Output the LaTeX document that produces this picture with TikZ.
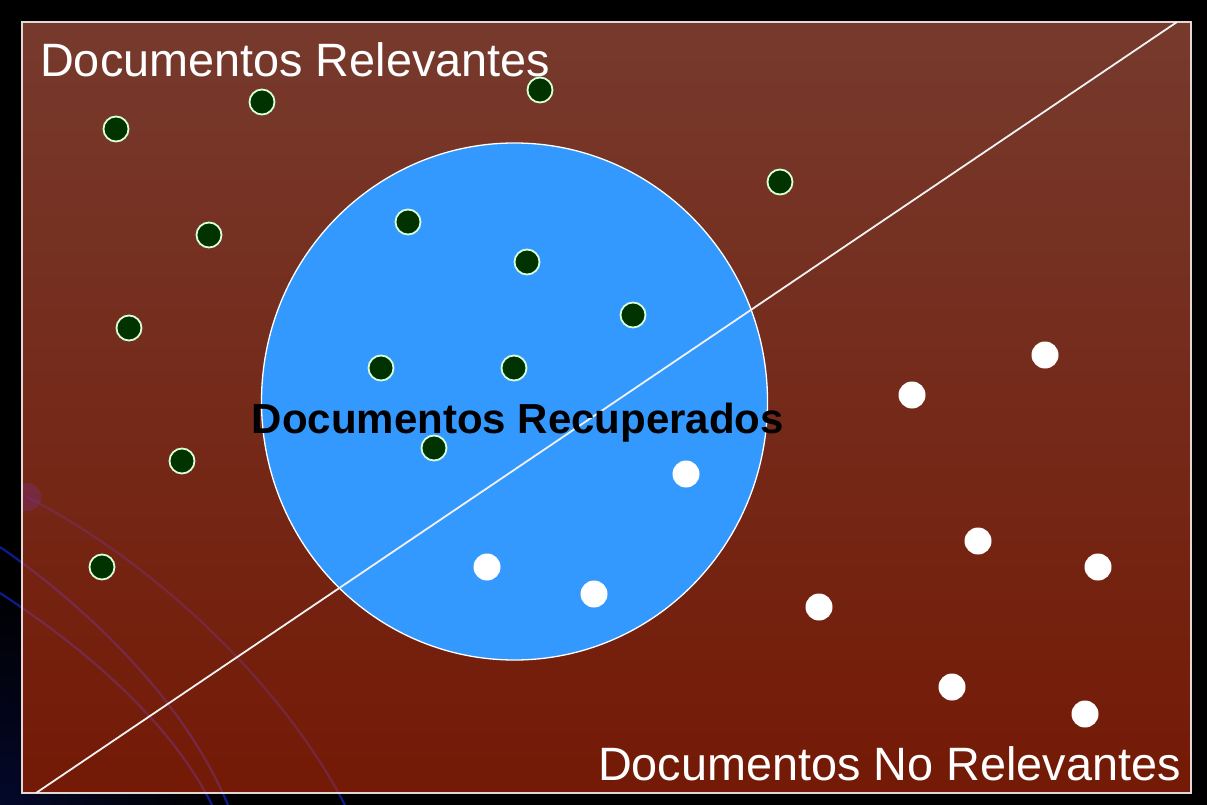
\documentclass[tikz,border=0pt]{standalone}
\usepackage{fontspec}
\setmainfont{Liberation Sans}
\usetikzlibrary{shapes.geometric}
\definecolor{bgtop}{HTML}{763A2D}
\definecolor{bgbot}{HTML}{741A06}
\definecolor{retblue}{HTML}{3399FF}
\definecolor{reldot}{HTML}{003300}
\definecolor{arcblue}{HTML}{0C1C8C}
\definecolor{arcpurple}{HTML}{7A3070}
\begin{document}
\begin{tikzpicture}[x=1pt,y=-1pt,
  reldoc/.style={circle,fill=reldot,draw=white!85!green,line width=1.8pt,minimum size=25pt,inner sep=0pt},
  nonreldoc/.style={circle,fill=white,minimum size=27pt,inner sep=0pt},
  biglabel/.style={text=white,font=\fontsize{46.8}{52}\selectfont,inner sep=0pt},
  circlabel/.style={text=black,font=\bfseries\fontsize{42}{48}\selectfont,inner sep=0pt},
  deco/.style={line width=2.2pt}]
\useasboundingbox (0,0) rectangle (1207,805);
\fill[black] (0,0) rectangle (1207,805);
\begin{scope}
  \clip (0,0) rectangle (1207,805);
  \shade[inner color=arcblue!30!black,outer color=black] (0,805) circle[radius=220];
\end{scope}
% decorative arcs (outside part)
\draw[deco,arcblue] (0,547) .. controls (70,595) and (180,690) .. (228,805);
\draw[deco,arcblue] (0,593) .. controls (80,645) and (170,720) .. (212,805);
\draw[deco,arcblue] (27,497) .. controls (150,560) and (280,680) .. (345,805);
% main panel
\shade[top color=bgtop,bottom color=bgbot] (22,22) rectangle (1191,793);
\begin{scope}
  \clip (22,22) rectangle (1191,793);
  \fill[arcpurple,opacity=0.45] (27,497) circle[radius=14];
  \draw[deco,arcpurple,opacity=0.6] (0,547) .. controls (70,595) and (180,690) .. (228,805);
  \draw[deco,arcpurple,opacity=0.6] (0,593) .. controls (80,645) and (170,720) .. (212,805);
  \draw[deco,arcpurple,opacity=0.5] (27,497) .. controls (150,560) and (280,680) .. (345,805);
\end{scope}
\draw[white!80!bgtop,line width=1.5pt] (22,22) rectangle (1191,793);
% retrieved set
\node (ret) [ellipse,minimum width=506pt,minimum height=517pt,inner sep=0pt,fill=retblue,draw=white,line width=1.3pt] at (514.5,401.5) {};
% relevance split
\coordinate (dl) at (36,793);
\coordinate (dr) at (1177,22);
\draw[white!90!gray,line width=1.8pt] (dl) -- (dr);
% relevant documents
\foreach \n/\px/\py in {r1/116/129,r2/262/102,r3/540/90,r4/780/182,r5/209/235,r6/408/222,r7/527/262,r8/633/315,r9/129/328,r10/381/368,r11/514/368,r12/434/448,r13/182/461,r14/102/567}
  \node (\n) [reldoc] at (\px,\py) {};
% non-relevant documents
\foreach \n/\px/\py in {n1/1045/355,n2/912/395,n3/686/474,n4/978/541,n5/1098/567,n6/487/567,n7/594/594,n8/819/607,n9/952/687,n10/1085/714}
  \node (\n) [nonreldoc] at (\px,\py) {};
% labels
\node (lrel) [biglabel,anchor=base west] at (40,77) {Documentos Relevantes};
\node (lnrel) [biglabel,anchor=base east] at (1181,780) {Documentos No Relevantes};
\node (lret) [circlabel,anchor=base] at (518,433) {Documentos Recuperados};
\end{tikzpicture}
\end{document}
